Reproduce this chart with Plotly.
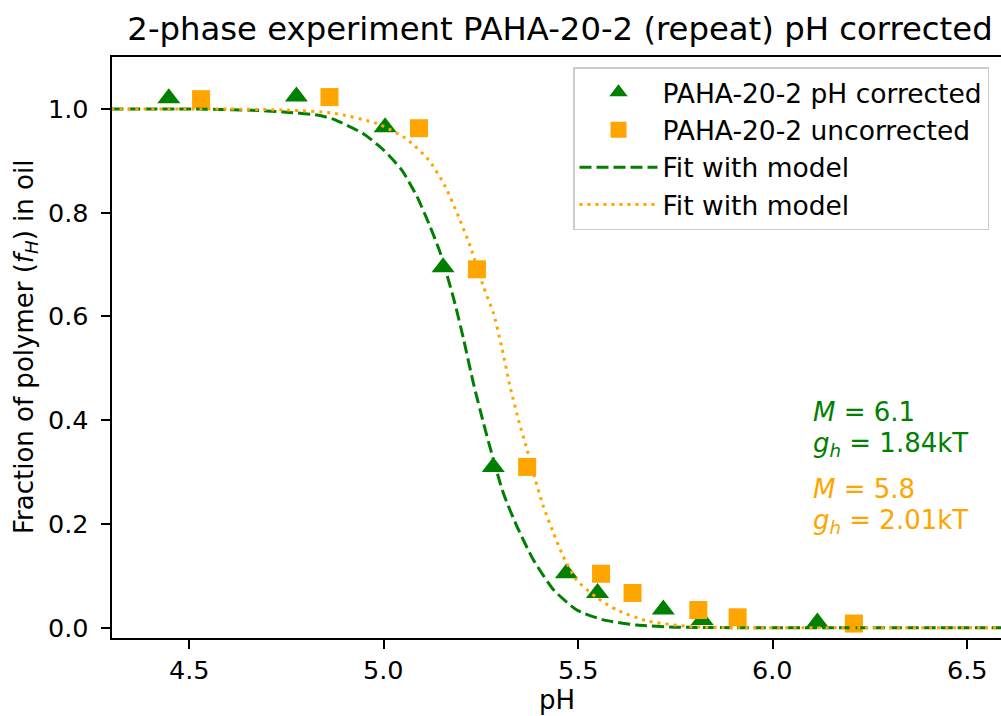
import plotly.graph_objects as go

# ---------------- data ----------------
ph_corrected = [4.448, 4.776, 5.004, 5.153, 5.282, 5.470, 5.550, 5.719, 5.819, 6.115]
f_corrected = [1.021, 1.024, 0.965, 0.695, 0.310, 0.105, 0.067, 0.035, 0.015, 0.010]

ph_uncorrected = [4.531, 4.861, 5.091, 5.240, 5.369, 5.559, 5.640, 5.809, 5.910, 6.209]
f_uncorrected = [1.019, 1.023, 0.963, 0.691, 0.310, 0.104, 0.067, 0.034, 0.020, 0.008]

fit_ph_corrected = [4.30, 4.50, 4.65, 4.75, 4.833, 4.872, 4.949, 5.000, 5.047, 5.086,
                    5.116, 5.146, 5.180, 5.206, 5.231, 5.257, 5.278, 5.308, 5.343,
                    5.385, 5.437, 5.497, 5.565, 5.651, 5.75, 5.90, 6.20, 6.60]
fit_f_corrected = [1.000, 1.000, 0.998, 0.994, 0.988, 0.980, 0.952, 0.921, 0.882, 0.831,
                   0.780, 0.722, 0.635, 0.555, 0.471, 0.394, 0.336, 0.259, 0.195,
                   0.131, 0.073, 0.034, 0.015, 0.005, 0.001, 0.000, 0.000, 0.000]

fit_ph_uncorrected = [4.30, 4.60, 4.75, 4.872, 4.983, 5.056, 5.116, 5.159, 5.193, 5.223,
                      5.257, 5.283, 5.304, 5.326, 5.347, 5.369, 5.390, 5.411, 5.437,
                      5.462, 5.496, 5.548, 5.600, 5.677, 5.789, 5.90, 6.20, 6.60]
fit_f_uncorrected = [1.000, 1.000, 0.998, 0.992, 0.972, 0.944, 0.902, 0.850, 0.792, 0.735,
                     0.657, 0.605, 0.540, 0.462, 0.400, 0.343, 0.285, 0.233, 0.182,
                     0.137, 0.092, 0.058, 0.034, 0.013, 0.002, 0.000, 0.000, 0.000]

x_ticks = [4.5, 5.0, 5.5, 6.0, 6.5]
y_ticks = [0.0, 0.2, 0.4, 0.6, 0.8, 1.0]

names = ["PAHA-20-2 pH corrected", "PAHA-20-2 uncorrected", "Fit with model", "Fit with model"]
GREEN = "#008000"
ORANGE = "#FFA500"

# ---------------- layout geometry (pixels) ----------------
W, H = 1001, 716
L, R, T, B = 112, 0, 57, 78
PW, PH = W - L - R, H - T - B


def px_x(p):
    return (p - L) / PW


def px_y(p):
    return 1 - (p - T) / PH


FONT = "DejaVu Sans"
TICK_FONT = dict(family=FONT, size=25.5, color="black")

fig = go.Figure()
fig.add_trace(go.Scatter(x=ph_corrected, y=f_corrected, mode="markers", name=names[0],
                         marker=dict(symbol="triangle-up", size=20, color=GREEN),
                         legendgroup="a"))
fig.add_trace(go.Scatter(x=ph_uncorrected, y=f_uncorrected, mode="markers", name=names[1],
                         marker=dict(symbol="square", size=18, color=ORANGE),
                         legendgroup="b"))
fig.add_trace(go.Scatter(x=fit_ph_corrected, y=fit_f_corrected, mode="lines", name=names[2],
                         line=dict(color=GREEN, width=3, dash="12px,5px", shape="spline", smoothing=0.6),
                         legendgroup="c"))
fig.add_trace(go.Scatter(x=fit_ph_uncorrected, y=fit_f_uncorrected, mode="lines", name=names[3],
                         line=dict(color=ORANGE, width=3, dash="3px,5px", shape="spline", smoothing=0.6),
                         legendgroup="d"))

axis_common = dict(showgrid=False, zeroline=False, showline=True, linecolor="black", linewidth=2,
                   ticks="outside", ticklen=9, tickwidth=1.8, tickcolor="black",
                   showticklabels=False)

fig.update_layout(
    width=W, height=H, autosize=False,
    margin=dict(l=L, r=R, t=T, b=B, pad=0),
    paper_bgcolor="white", plot_bgcolor="white",
    font=dict(family=FONT, color="black"),
    title=dict(text="2-phase experiment PAHA-20-2 (repeat) pH corrected",
               font=dict(family=FONT, size=32.3, color="black"),
               x=560 / W, xref="container", xanchor="center",
               y=1 - 29 / H, yref="container", yanchor="middle"),
    xaxis=dict(range=[4.302, 6.587], tickvals=x_ticks, mirror=True, **axis_common),
    yaxis=dict(range=[-0.0199, 1.1003], tickvals=y_ticks, mirror=False, **axis_common),
    legend=dict(x=px_x(573), y=px_y(67), xanchor="left", yanchor="top",
                bgcolor="white", bordercolor="#cccccc", borderwidth=1.5,
                font=dict(family=FONT, size=26.5, color="black"),
                itemwidth=78, traceorder="grouped", tracegroupgap=0),
    showlegend=True,
)

annotations = []
# tick labels, placed through the axes' own scales
for v in x_ticks:
    annotations.append(dict(text=f"{v:.1f}", x=v, xref="x", y=px_y(670), yref="paper",
                            xanchor="center", yanchor="middle", showarrow=False,
                            font=dict(TICK_FONT)))
for v in y_ticks:
    annotations.append(dict(text=f"{v:.1f}", x=px_x(91), xref="paper", y=v, yref="y",
                            xanchor="right", yanchor="middle", showarrow=False,
                            font=dict(TICK_FONT)))

texts = [
    dict(text="Fraction of polymer (<i>f<sub>H</sub></i>) in oil", x=px_x(25), y=px_y(347),
         textangle=-90, font=dict(size=26, color="black")),
    dict(text="pH", x=px_x(557), y=px_y(700), font=dict(size=26, color="black")),
    dict(text="<i>M</i> = 6.1", x=px_x(811), y=px_y(412), xanchor="left",
         font=dict(size=26, color=GREEN)),
    dict(text="<i>g<sub>h</sub></i> = 1.84kT", x=px_x(811), y=px_y(445), xanchor="left",
         font=dict(size=26, color=GREEN)),
    dict(text="<i>M</i> = 5.8", x=px_x(811), y=px_y(489), xanchor="left",
         font=dict(size=26, color=ORANGE)),
    dict(text="<i>g<sub>h</sub></i> = 2.01kT", x=px_x(811), y=px_y(521), xanchor="left",
         font=dict(size=26, color=ORANGE)),
]
for a in texts:
    a.setdefault("xanchor", "center")
    a.update(xref="paper", yref="paper", yanchor="middle", showarrow=False)
    a["font"]["family"] = FONT
annotations.extend(texts)
fig.update_layout(annotations=annotations)

fig.write_html("out.html")
